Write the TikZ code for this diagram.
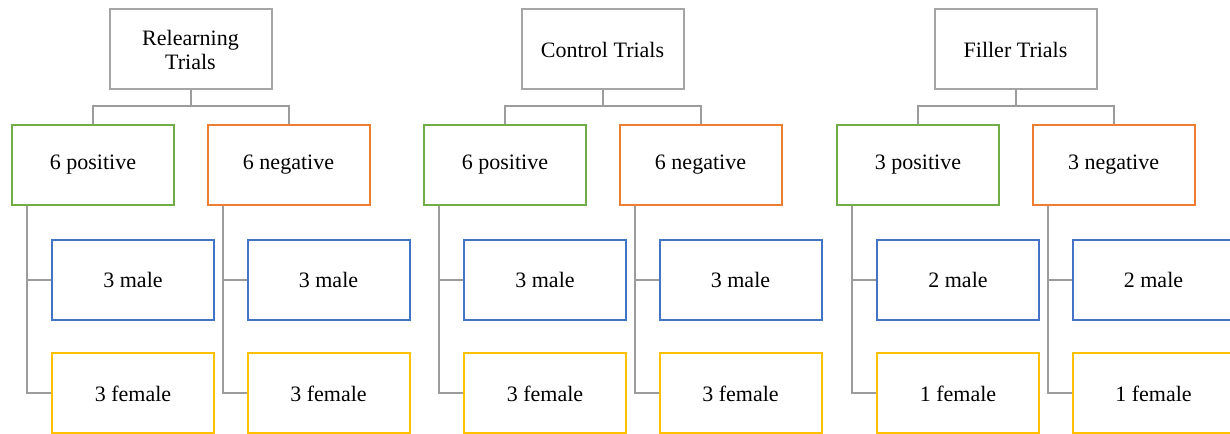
\documentclass[tikz,border=0pt]{standalone}
\usepackage{fontspec}
\setmainfont{Liberation Serif}
\definecolor{cgreen}{HTML}{70AD47}
\definecolor{corange}{HTML}{ED7D31}
\definecolor{cblue}{HTML}{4472C4}
\definecolor{cgold}{HTML}{FFC000}
\definecolor{cgray}{HTML}{A5A5A5}
\definecolor{cline}{HTML}{9C9C9C}
\begin{document}
\begin{tikzpicture}[x=1bp,y=-1bp,
  box/.style={draw, line width=2bp, fill=white, minimum width=162bp, minimum height=80bp,
    inner sep=2bp, align=center, font=\fontsize{22bp}{24bp}\selectfont},
  topbox/.style={box, draw=cgray},
  posbox/.style={box, draw=cgreen},
  negbox/.style={box, draw=corange},
  malebox/.style={box, draw=cblue},
  femalebox/.style={box, draw=cgold},
  conn/.style={draw=cline, line width=2bp}]
\useasboundingbox (0,0) rectangle (1230,434);
\clip (0,0) rectangle (1230,434);
\foreach \g/\cx/\title/\np/\nm/\nf in {a/190.5/{Relearning\\Trials}/6/3/3, b/602.5/{Control Trials}/6/3/3, c/1015.5/{Filler Trials}/3/2/1}{
  \node[topbox] (\g top) at (\cx,49.5) {\title};
  \node[posbox] (\g pos) at (\cx-97.5,165) {\np\ positive};
  \node[negbox] (\g neg) at (\cx+98,165) {\np\ negative};
  \node[malebox] (\g pm) at (\cx-97.5+40,280) {\nm\ male};
  \node[femalebox] (\g pf) at (\cx-97.5+40,393.5) {\nf\ female};
  \node[malebox] (\g nm) at (\cx+98+40,280) {\nm\ male};
  \node[femalebox] (\g nf) at (\cx+98+40,393.5) {\nf\ female};
  \draw[conn] (\g pos.north) -- ++(0,-18) -| (\g neg.north);
  \draw[conn] (\g top.south) -- ++(0,17);
  \draw[conn] ([xshift=16bp]\g pos.south west) |- (\g pm.west);
  \draw[conn] ([xshift=16bp]\g pos.south west) |- (\g pf.west);
  \draw[conn] ([xshift=16bp]\g neg.south west) |- (\g nm.west);
  \draw[conn] ([xshift=16bp]\g neg.south west) |- (\g nf.west);
}
\end{tikzpicture}
\end{document}
